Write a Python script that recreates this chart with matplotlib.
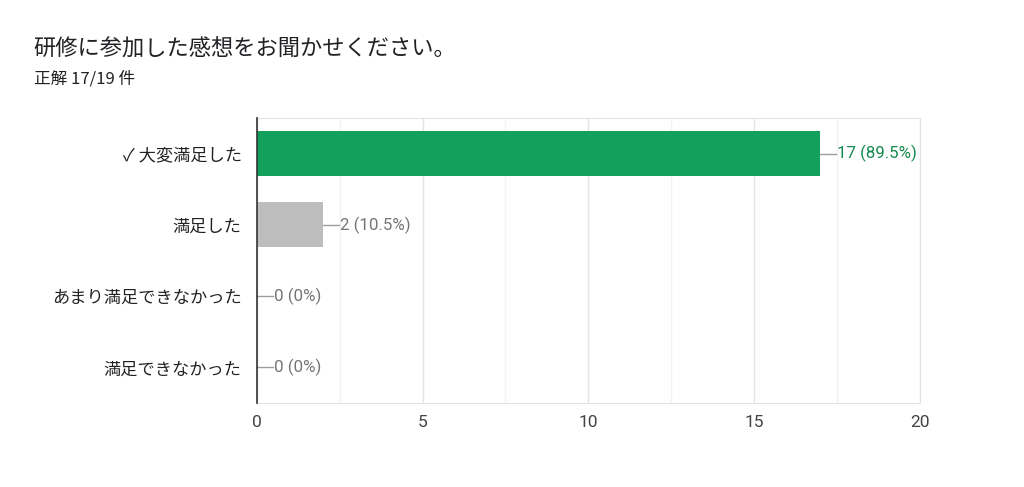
import matplotlib
matplotlib.use("Agg")
import matplotlib.pyplot as plt
import numpy as np

plt.rcParams['font.family'] = ['Noto Sans CJK JP', 'DejaVu Sans']

# data
categories = ["✓ 大変満足した", "満足した", "あまり満足できなかった", "満足できなかった"]
counts = [17, 2, 0, 0]
total = 19
bar_colors = ["#12a05c", "#bdbdbd", "#bdbdbd", "#bdbdbd"]
label_colors = ["#138a4f", "#757575", "#757575", "#757575"]

fig = plt.figure(figsize=(10.24, 4.87), dpi=100)
ax = fig.add_axes([0.251, 0.1725, 0.647, 0.585])

y = np.arange(len(categories))
ax.barh(y, counts, height=0.63, color=bar_colors, edgecolor="none", zorder=3)

ax.set_xlim(0, 20)
ax.set_ylim(len(categories) - 0.5, -0.5)
ax.set_xticks([0, 5, 10, 15, 20])
ax.set_xticks(np.arange(0, 20.1, 2.5), minor=True)
ax.grid(axis="x", which="major", color="#e3e3e3", lw=1, zorder=0)
ax.grid(axis="x", which="minor", color="#f2f2f2", lw=1, zorder=0)
ax.set_yticks(y)
ax.set_yticklabels(categories, fontsize=12.4, color="#222222")
ax.tick_params(axis="y", length=0, pad=11)
ax.tick_params(axis="x", which="both", length=0, pad=9, labelsize=12.5, labelcolor="#444444")
for lab in ax.get_xticklabels():
    lab.set_family(["Roboto", "DejaVu Sans"])

for s in ["top", "right", "bottom"]:
    ax.spines[s].set_color("#e3e3e3")
ax.spines["left"].set_color("#333333")
ax.spines["left"].set_linewidth(1.2)
ax.spines["left"].set_zorder(4)

# value labels with short leader line
for yi, c, col in zip(y, counts, label_colors):
    pct = c / total * 100
    if c == 0:
        txt = "%d (0%%)" % c
    else:
        txt = "%d (%.1f%%)" % (c, pct)
    ax.plot([c, c + 0.48], [yi, yi], color="#9e9e9e", lw=1, zorder=4, clip_on=False)
    ax.text(c + 0.5, yi, txt, va="center", ha="left", fontsize=12.2, color=col,
            family=["Roboto", "DejaVu Sans"], zorder=5)

fig.text(0.033, 0.9, "研修に参加した感想をお聞かせください。", fontsize=16, color="#202124",
         va="center", ha="left")
fig.text(0.033, 0.838, "正解 17/19 件", fontsize=12, color="#202124", va="center", ha="left")

fig.savefig("out.png", dpi=100, facecolor="white")
